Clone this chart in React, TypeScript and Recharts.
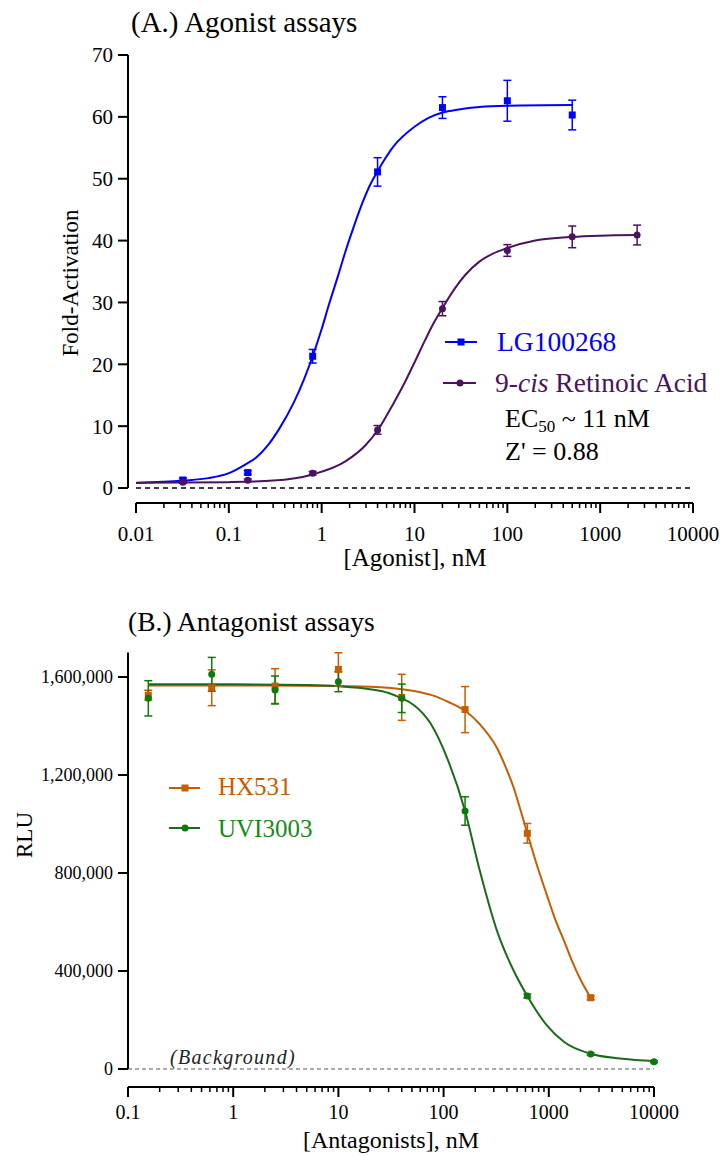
import { LineChart, Line, XAxis, YAxis, ErrorBar, ReferenceLine } from "recharts";

const FONT = '"Liberation Serif", "Times New Roman", serif';

// ---- (A.) agonist assays ----
const agonistDoses = [0.032, 0.16, 0.8, 4, 20, 100, 500];
const lgMean = [1.3, 2.5, 21.3, 51.1, 61.5, 62.6, 60.3];
const lgSem = [0.3, 0.3, 1.1, 2.3, 1.75, 3.3, 2.4];

const cisDoses = [0.032, 0.16, 0.8, 4, 20, 100, 500, 2500];
const cisMean = [0.95, 1.25, 2.4, 9.4, 29.0, 38.4, 40.6, 40.9];
const cisSem = [0.2, 0.2, 0.3, 0.7, 1.15, 0.95, 1.75, 1.6];

// fitted curves
const lgFitDoses = [0.01, 0.032, 0.06, 0.1, 0.15, 0.2, 0.26, 0.35, 0.5, 0.65, 0.8, 1, 1.2, 1.5, 1.8, 2.2, 2.8, 3.3, 4, 6, 10, 14, 20, 30, 50, 100, 500];
const lgFit = [0.8, 1.2, 1.6, 2.4, 3.8, 5.0, 6.8, 9.6, 13.8, 17.7, 21.3, 25.7, 29.7, 34.3, 38.2, 42.1, 46.4, 48.9, 51.2, 55.3, 58.4, 59.8, 60.7, 61.2, 61.6, 61.8, 61.9];
const cisFitDoses = [0.01, 0.032, 0.1, 0.3, 0.8, 1.8, 3, 4, 6, 8, 10, 13, 16, 20, 27, 35, 50, 70, 100, 200, 500, 1000, 2500];
const cisFit = [0.85, 0.88, 0.95, 1.2, 2.2, 4.3, 7.0, 9.3, 13.8, 17.3, 20.3, 23.9, 26.6, 29.1, 32.2, 34.4, 36.6, 37.9, 38.8, 40.0, 40.6, 40.8, 40.9];

const foldTicks = [0, 10, 20, 30, 40, 50, 60, 70];
const agonistMajor = [0.01, 0.1, 1, 10, 100, 1000, 10000];

// ---- (B.) antagonist assays ----
const hxDoses = [0.156, 0.625, 2.5, 10, 40, 160, 625, 2500];
const hxMean = [1526000, 1556000, 1563000, 1631000, 1517000, 1467000, 962000, 291000];
const hxSem = [20000, 73000, 71000, 68000, 94000, 94000, 40000, 8000];

const uviDoses = [0.156, 0.625, 2.5, 10, 40, 160, 625, 2500, 10000];
const uviMean = [1513000, 1611000, 1547000, 1581000, 1513000, 1053000, 298000, 61000, 30000];
const uviSem = [72000, 69000, 57000, 41000, 58000, 58000, 8000, 5000, 4000];

const hxFitDoses = [0.156, 1, 10, 25, 40, 60, 80, 110, 160, 220, 320, 400, 460, 540, 625, 760, 950, 1150, 1400, 1700, 2000, 2500];
const hxFit = [1565000, 1565000, 1563000, 1558000, 1550000, 1538000, 1524000, 1499000, 1462000, 1408000, 1312000, 1220000, 1152000, 1055000, 962000, 841000, 715000, 611000, 522000, 431000, 365000, 291000];
const uviFitDoses = [0.156, 1, 5, 10, 20, 30, 40, 52, 75, 110, 160, 220, 320, 460, 625, 950, 1400, 2500, 5000, 10000];
const uviFit = [1570000, 1570000, 1567000, 1562000, 1550000, 1535000, 1513000, 1486000, 1411000, 1261000, 1053000, 812000, 567000, 404000, 298000, 180000, 110000, 62000, 42000, 33000];

const rluTicks = [0, 400000, 800000, 1200000, 1600000];
const antagonistMajor = [0.1, 1, 10, 100, 1000, 10000];

const BLUE = "#0000FF";
const PURPLE = "#4B1260";
const ORANGE = "#C65D00";
const GREEN = "#0B7A0B";
const GREEN_LINE = "#1B6B1B";

const A_XMIN = 0.0082;
const A_YMIN = -2.42;
const B_YMIN = -73500;
const B_YMAX = 1700000;

const toPoints = (xs: number[], ys: number[], es?: number[]) =>
  xs.map((x, i) => ({ x, y: ys[i], err: es ? es[i] : 0 }));

const withMinors = (majors: number[]) => {
  const out: number[] = [];
  majors.forEach((d, i) => {
    out.push(d);
    if (i < majors.length - 1) [2, 3, 4, 5, 6, 7, 8, 9].forEach((k) => out.push(+(k * d).toPrecision(3)));
  });
  return out;
};

const squareDot = (color: string) => (props: any) => {
  const { cx, cy, index } = props;
  if (cx == null || cy == null) return <g key={index} />;
  return <rect key={index} x={cx - 3.5} y={cy - 3.5} width={7} height={7} fill={color} />;
};

const logTick = (labelOffset: number, fontSize: number) => (props: any) => {
  const { x, y, payload } = props;
  const v = payload.value;
  const lg = Math.log10(v);
  const major = Math.abs(lg - Math.round(lg)) < 1e-6;
  return (
    <g>
      <line x1={x} x2={x} y1={y} y2={y + (major ? 10 : 5)} stroke="#000" strokeWidth={major ? 2 : 1.5} />
      {major && (
        <text x={x} y={y + labelOffset} textAnchor="middle" fontSize={fontSize} fontFamily={FONT} fill="#000">
          {String(v)}
        </text>
      )}
    </g>
  );
};

function AgonistChart() {
  return (
    <LineChart width={722} height={580} margin={{ top: 55, right: 29, bottom: 0, left: 0 }}>
      <XAxis
        type="number"
        dataKey="x"
        scale="log"
        domain={[A_XMIN, 10000]}
        ticks={withMinors(agonistMajor)}
        interval={0}
        tickSize={0}
        tickMargin={0}
        axisLine={false}
        tickLine={false}
        height={77}
        tick={logTick(38, 21)}
      />
      <YAxis
        type="number"
        domain={[A_YMIN, 70]}
        ticks={foldTicks}
        width={128}
        axisLine={false}
        tickSize={10}
        tickMargin={5}
        tickLine={{ stroke: "#000", strokeWidth: 2 }}
        tick={{ fill: "#000", fontSize: 21, fontFamily: FONT }}
      />
      <ReferenceLine segment={[{ x: A_XMIN, y: 0 }, { x: A_XMIN, y: 70 }]} stroke="#000" strokeWidth={2} ifOverflow="visible" />
      <ReferenceLine segment={[{ x: 0.01, y: A_YMIN }, { x: 10000, y: A_YMIN }]} stroke="#000" strokeWidth={2} ifOverflow="visible" />
      <ReferenceLine segment={[{ x: 0.01, y: 0 }, { x: 10000, y: 0 }]} stroke="#000" strokeWidth={1.5} strokeDasharray="5 4" ifOverflow="visible" />
      <Line data={toPoints(lgFitDoses, lgFit)} dataKey="y" type="monotone" stroke={BLUE} strokeWidth={2} dot={false} activeDot={false} isAnimationActive={false} />
      <Line data={toPoints(cisFitDoses, cisFit)} dataKey="y" type="monotone" stroke={PURPLE} strokeWidth={2} dot={false} activeDot={false} isAnimationActive={false} />
      <Line data={toPoints(agonistDoses, lgMean, lgSem)} dataKey="y" stroke="none" dot={squareDot(BLUE)} activeDot={false} isAnimationActive={false}>
        <ErrorBar dataKey="err" direction="y" width={4} stroke={BLUE} strokeWidth={1.5} />
      </Line>
      <Line data={toPoints(cisDoses, cisMean, cisSem)} dataKey="y" stroke="none" dot={{ r: 3.5, fill: PURPLE, stroke: PURPLE, strokeWidth: 0 }} activeDot={false} isAnimationActive={false}>
        <ErrorBar dataKey="err" direction="y" width={4} stroke={PURPLE} strokeWidth={1.5} />
      </Line>
    </LineChart>
  );
}

function AntagonistChart() {
  return (
    <LineChart width={722} height={576} margin={{ top: 72.5, right: 68, bottom: 0, left: 0 }}>
      <XAxis
        type="number"
        dataKey="x"
        scale="log"
        domain={[0.1, 10000]}
        ticks={withMinors(antagonistMajor)}
        interval={0}
        tickSize={0}
        tickMargin={0}
        axisLine={{ stroke: "#000", strokeWidth: 2 }}
        tickLine={false}
        height={69}
        tick={logTick(32, 20)}
      />
      <YAxis
        type="number"
        domain={[B_YMIN, B_YMAX]}
        ticks={rluTicks}
        width={128}
        axisLine={false}
        tickSize={10}
        tickMargin={5}
        tickLine={{ stroke: "#000", strokeWidth: 2 }}
        tickFormatter={(v: number) => v.toLocaleString("en-US")}
        tick={{ fill: "#000", fontSize: 18, fontFamily: FONT }}
      />
      <ReferenceLine segment={[{ x: 0.1, y: 0 }, { x: 0.1, y: B_YMAX }]} stroke="#000" strokeWidth={2} ifOverflow="visible" />
      <ReferenceLine segment={[{ x: 0.1, y: 0 }, { x: 10000, y: 0 }]} stroke="#555" strokeWidth={1} strokeDasharray="4 3" ifOverflow="visible" />
      <Line data={toPoints(hxFitDoses, hxFit)} dataKey="y" type="monotone" stroke={ORANGE} strokeWidth={2} dot={false} activeDot={false} isAnimationActive={false} />
      <Line data={toPoints(uviFitDoses, uviFit)} dataKey="y" type="monotone" stroke={GREEN_LINE} strokeWidth={2} dot={false} activeDot={false} isAnimationActive={false} />
      <Line data={toPoints(hxDoses, hxMean, hxSem)} dataKey="y" stroke="none" dot={squareDot(ORANGE)} activeDot={false} isAnimationActive={false}>
        <ErrorBar dataKey="err" direction="y" width={4} stroke={ORANGE} strokeWidth={1.5} />
      </Line>
      <Line data={toPoints(uviDoses, uviMean, uviSem)} dataKey="y" stroke="none" dot={{ r: 3.5, fill: GREEN, stroke: GREEN, strokeWidth: 0 }} activeDot={false} isAnimationActive={false}>
        <ErrorBar dataKey="err" direction="y" width={4} stroke={GREEN} strokeWidth={1.5} />
      </Line>
    </LineChart>
  );
}

function Labels() {
  return (
    <svg width={722} height={1156} style={{ position: "absolute", left: 0, top: 0, pointerEvents: "none" }} fontFamily={FONT}>
      {/* panel A */}
      <text x={131} y={32} fontSize={29} fill="#000">(A.) Agonist assays</text>
      <text x={78} y={283} fontSize={23} fill="#000" textAnchor="middle" transform="rotate(-90 78 283)">Fold-Activation</text>
      <text x={415} y={566} fontSize={25} fill="#000" textAnchor="middle">[Agonist], nM</text>

      <line x1={445} x2={477} y1={342} y2={342} stroke={BLUE} strokeWidth={2} />
      <rect x={457.5} y={338.5} width={7} height={7} fill={BLUE} />
      <text x={497} y={351} fontSize={27.5} fill={BLUE}>LG100268</text>
      <line x1={443} x2={476} y1={383} y2={383} stroke={PURPLE} strokeWidth={2} />
      <circle cx={460} cy={383} r={3.5} fill={PURPLE} />
      <text x={495} y={392} fontSize={27.5} fill={PURPLE}>
        9-<tspan fontStyle="italic">cis</tspan> Retinoic Acid
      </text>
      <text x={505} y={427} fontSize={26} fill="#000">
        EC<tspan fontSize={17} dy={5}>50</tspan><tspan dy={-5}> ~ 11 nM</tspan>
      </text>
      <text x={505} y={460} fontSize={26} fill="#000">Z' = 0.88</text>

      {/* panel B */}
      <text x={128} y={631} fontSize={27.5} fill="#000">(B.) Antagonist assays</text>
      <text x={32} y={835} fontSize={23} fill="#000" textAnchor="middle" transform="rotate(-90 32 835)">RLU</text>
      <text x={391} y={1148} fontSize={24} fill="#000" textAnchor="middle">[Antagonists], nM</text>

      <line x1={169} x2={200} y1={788} y2={788} stroke={ORANGE} strokeWidth={2} />
      <rect x={181.5} y={784.5} width={7} height={7} fill={ORANGE} />
      <text x={218} y={795} fontSize={25} fill={ORANGE}>HX531</text>
      <line x1={169} x2={200} y1={828} y2={828} stroke={GREEN_LINE} strokeWidth={2} />
      <circle cx={185} cy={828} r={3.5} fill={GREEN} />
      <text x={218} y={837} fontSize={25} fill="#178A17">UVI3003</text>

      <text x={170} y={1064} fontSize={20} fontStyle="italic" letterSpacing={1.3} fill="#222">(Background)</text>
    </svg>
  );
}

export default function App() {
  return (
    <div style={{ position: "absolute", left: 0, top: 0, width: 722, height: 1156, background: "#fff", fontFamily: FONT }}>
      <div style={{ position: "absolute", left: 0, top: 0 }}>
        <AgonistChart />
      </div>
      <div style={{ position: "absolute", left: 0, top: 580 }}>
        <AntagonistChart />
      </div>
      <Labels />
    </div>
  );
}
